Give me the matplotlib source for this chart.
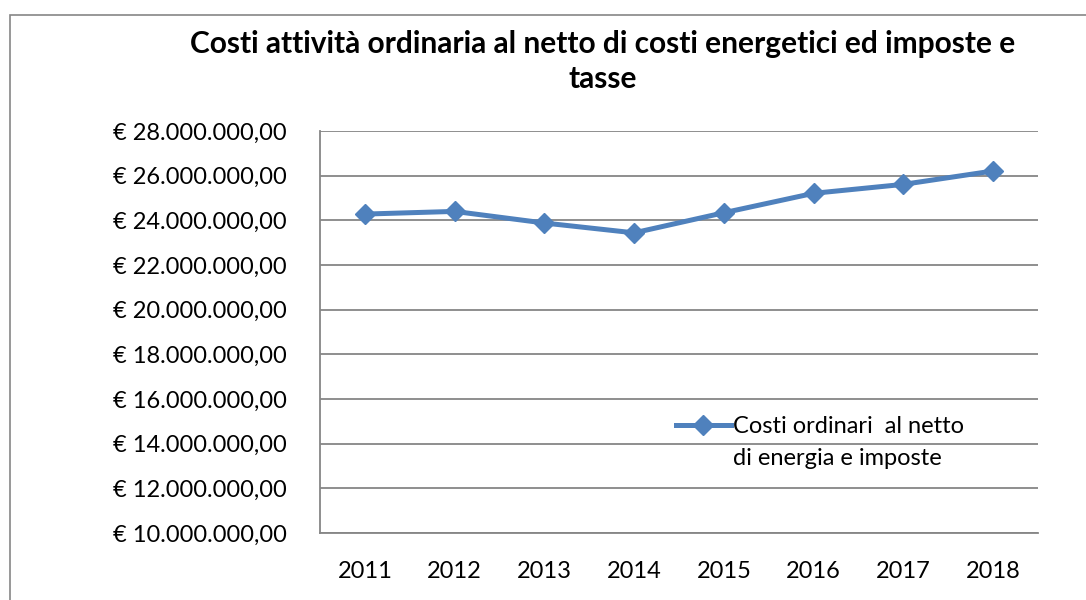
import matplotlib
matplotlib.use('Agg')
import matplotlib.pyplot as plt
from matplotlib.patches import Rectangle
from matplotlib.lines import Line2D

# data
years = ['2011', '2012', '2013', '2014', '2015', '2016', '2017', '2018']
costs = [24.28e6, 24.40e6, 23.88e6, 23.44e6, 24.34e6, 25.21e6, 25.61e6, 26.21e6]
y_ticks = [10e6, 12e6, 14e6, 16e6, 18e6, 20e6, 22e6, 24e6, 26e6, 28e6]
series_label = ['Costi ordinari  al netto', 'di energia e imposte']

BLUE = '#4F81BD'
GRID = '#868686'

plt.rcParams['font.family'] = ['Lato', 'DejaVu Sans']

fig = plt.figure(figsize=(10.86, 6.0), dpi=100)
fig.patch.set_facecolor('white')

# chart frame (cropped on the right and bottom in the reference)
fig.patches.append(Rectangle((10 / 1086, -0.1), 1.2, (600 - 15) / 600 + 0.1,
                             transform=fig.transFigure, fill=False,
                             edgecolor=GRID, linewidth=1.2))

ax = fig.add_axes([320 / 1086, 67 / 600, (1038 - 320) / 1086, (533 - 131) / 600])

x = list(range(len(years)))
line, = ax.plot(x, costs, color=BLUE, linewidth=3.6, marker='D', markersize=10,
                markerfacecolor=BLUE, markeredgecolor=BLUE, zorder=3)

ax.set_xlim(-0.5, len(years) - 0.5)
ax.set_ylim(10e6, 28e6)
ax.set_xticks(x)
ax.set_xticklabels(years, fontsize=17)
ax.set_yticks(y_ticks)
ax.set_yticklabels(['€ {:,.2f}'.format(v).replace(',', 'X').replace('.', ',').replace('X', '.')
                    for v in y_ticks], fontsize=17)
ax.tick_params(axis='x', length=0, pad=20)
ax.tick_params(axis='y', length=0, pad=24)

ax.yaxis.grid(True, color=GRID, linewidth=1.3)
ax.set_axisbelow(True)
for s in ['top', 'right']:
    ax.spines[s].set_visible(False)
for s in ['left', 'bottom']:
    ax.spines[s].set_color(GRID)
    ax.spines[s].set_linewidth(1.3)

# legend: handle next to the first line of the label only
blank = Line2D([], [], linestyle='none')
leg = ax.legend([line, blank], series_label, loc='center left',
                bbox_to_anchor=(0.483, 0.225), frameon=False,
                fontsize=17, handlelength=2.3, handletextpad=0.1,
                borderaxespad=0, labelspacing=0.45)

fig.text(0.555, 0.898, 'Costi attività ordinaria al netto di costi energetici ed imposte e\ntasse',
         ha='center', va='center', fontsize=21.5, fontweight='bold',
         linespacing=1.3)

fig.savefig('out.png', dpi=100, facecolor='white')
